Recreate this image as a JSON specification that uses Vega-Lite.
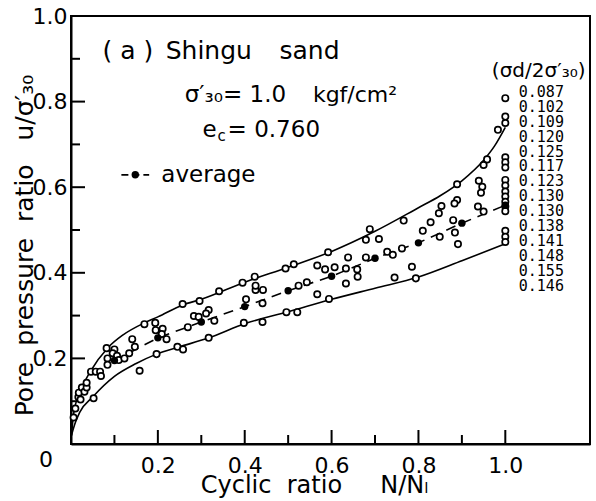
{
  "$schema": "https://vega.github.io/schema/vega-lite/v6.json",
  "width": 519,
  "height": 428,
  "autosize": "none",
  "padding": {"left": 71, "top": 16, "right": 6, "bottom": 57},
  "background": "white",
  "config": {
    "view": {"stroke": "black", "strokeWidth": 2},
    "font": "DejaVu Sans",
    "axis": {
      "domainColor": "black", "domainWidth": 2, "grid": false, "ticks": false, "tickSize": 0,
      "labelFont": "DejaVu Sans", "labelFontSize": 22, "labelColor": "black",
      "titleFont": "DejaVu Sans", "titleFontWeight": "normal", "titleColor": "black"
    }
  },
  "datasets": {
    "pts": [
      {"x": 0.006, "y": 0.062}, {"x": 0.010, "y": 0.083}, {"x": 0.017, "y": 0.110}, {"x": 0.018, "y": 0.120},
      {"x": 0.022, "y": 0.104}, {"x": 0.025, "y": 0.132}, {"x": 0.031, "y": 0.122}, {"x": 0.036, "y": 0.132},
      {"x": 0.036, "y": 0.143}, {"x": 0.046, "y": 0.169}, {"x": 0.057, "y": 0.169}, {"x": 0.067, "y": 0.169},
      {"x": 0.069, "y": 0.159}, {"x": 0.052, "y": 0.107},
      {"x": 0.082, "y": 0.224}, {"x": 0.100, "y": 0.221}, {"x": 0.096, "y": 0.212}, {"x": 0.084, "y": 0.200},
      {"x": 0.084, "y": 0.185}, {"x": 0.106, "y": 0.206}, {"x": 0.110, "y": 0.196}, {"x": 0.123, "y": 0.200},
      {"x": 0.134, "y": 0.212}, {"x": 0.141, "y": 0.245}, {"x": 0.147, "y": 0.227}, {"x": 0.158, "y": 0.171},
      {"x": 0.169, "y": 0.280}, {"x": 0.194, "y": 0.283}, {"x": 0.257, "y": 0.327}, {"x": 0.296, "y": 0.334},
      {"x": 0.341, "y": 0.357},
      {"x": 0.195, "y": 0.266}, {"x": 0.211, "y": 0.269}, {"x": 0.209, "y": 0.257}, {"x": 0.220, "y": 0.245},
      {"x": 0.269, "y": 0.273}, {"x": 0.283, "y": 0.299}, {"x": 0.294, "y": 0.297}, {"x": 0.317, "y": 0.313},
      {"x": 0.311, "y": 0.305}, {"x": 0.330, "y": 0.288},
      {"x": 0.197, "y": 0.210}, {"x": 0.245, "y": 0.227}, {"x": 0.258, "y": 0.221}, {"x": 0.317, "y": 0.248},
      {"x": 0.395, "y": 0.377}, {"x": 0.423, "y": 0.391}, {"x": 0.494, "y": 0.410}, {"x": 0.513, "y": 0.420},
      {"x": 0.403, "y": 0.338}, {"x": 0.425, "y": 0.360}, {"x": 0.442, "y": 0.360}, {"x": 0.425, "y": 0.370},
      {"x": 0.441, "y": 0.329}, {"x": 0.524, "y": 0.370}, {"x": 0.543, "y": 0.378},
      {"x": 0.398, "y": 0.283}, {"x": 0.441, "y": 0.285}, {"x": 0.496, "y": 0.308}, {"x": 0.521, "y": 0.308},
      {"x": 0.592, "y": 0.448}, {"x": 0.688, "y": 0.502}, {"x": 0.766, "y": 0.522},
      {"x": 0.567, "y": 0.417}, {"x": 0.585, "y": 0.408}, {"x": 0.607, "y": 0.413}, {"x": 0.638, "y": 0.436},
      {"x": 0.633, "y": 0.410}, {"x": 0.659, "y": 0.408}, {"x": 0.660, "y": 0.391}, {"x": 0.633, "y": 0.375},
      {"x": 0.679, "y": 0.436}, {"x": 0.679, "y": 0.477}, {"x": 0.709, "y": 0.479}, {"x": 0.728, "y": 0.449},
      {"x": 0.741, "y": 0.442}, {"x": 0.762, "y": 0.457},
      {"x": 0.567, "y": 0.350}, {"x": 0.594, "y": 0.339}, {"x": 0.745, "y": 0.389}, {"x": 0.794, "y": 0.387},
      {"x": 0.785, "y": 0.414},
      {"x": 0.810, "y": 0.498}, {"x": 0.828, "y": 0.518}, {"x": 0.847, "y": 0.539}, {"x": 0.853, "y": 0.556},
      {"x": 0.849, "y": 0.484}, {"x": 0.880, "y": 0.523}, {"x": 0.884, "y": 0.494}, {"x": 0.889, "y": 0.570},
      {"x": 0.883, "y": 0.562}, {"x": 0.889, "y": 0.607}, {"x": 0.891, "y": 0.467}, {"x": 0.937, "y": 0.555},
      {"x": 0.950, "y": 0.543}, {"x": 0.939, "y": 0.615}, {"x": 0.947, "y": 0.601}, {"x": 0.944, "y": 0.587},
      {"x": 0.958, "y": 0.665}, {"x": 0.950, "y": 0.652}, {"x": 0.983, "y": 0.734},
      {"x": 1.0, "y": 0.808}, {"x": 1.0, "y": 0.765}, {"x": 1.0, "y": 0.750}, {"x": 1.0, "y": 0.670},
      {"x": 1.0, "y": 0.658}, {"x": 1.0, "y": 0.646}, {"x": 1.0, "y": 0.617}, {"x": 1.0, "y": 0.604},
      {"x": 1.0, "y": 0.590}, {"x": 1.0, "y": 0.578}, {"x": 1.0, "y": 0.566}, {"x": 1.0, "y": 0.555},
      {"x": 1.0, "y": 0.544}, {"x": 1.0, "y": 0.498}, {"x": 1.0, "y": 0.484}, {"x": 1.0, "y": 0.472}
    ],
    "upper": [
      {"x": 0.001, "y": 0.02}, {"x": 0.006, "y": 0.07}, {"x": 0.02, "y": 0.12}, {"x": 0.045, "y": 0.17},
      {"x": 0.085, "y": 0.225}, {"x": 0.12, "y": 0.255}, {"x": 0.169, "y": 0.283}, {"x": 0.2, "y": 0.297},
      {"x": 0.257, "y": 0.325}, {"x": 0.3, "y": 0.338}, {"x": 0.4, "y": 0.378}, {"x": 0.5, "y": 0.413},
      {"x": 0.6, "y": 0.45}, {"x": 0.7, "y": 0.497}, {"x": 0.8, "y": 0.552}, {"x": 0.85, "y": 0.58},
      {"x": 0.9, "y": 0.615}, {"x": 0.95, "y": 0.663}, {"x": 0.975, "y": 0.696}, {"x": 1.0, "y": 0.74}
    ],
    "lower": [
      {"x": 0.001, "y": 0.02}, {"x": 0.01, "y": 0.05}, {"x": 0.02, "y": 0.074}, {"x": 0.05, "y": 0.11},
      {"x": 0.1, "y": 0.158}, {"x": 0.15, "y": 0.188}, {"x": 0.197, "y": 0.21}, {"x": 0.25, "y": 0.227},
      {"x": 0.317, "y": 0.248}, {"x": 0.4, "y": 0.281}, {"x": 0.5, "y": 0.309}, {"x": 0.6, "y": 0.338},
      {"x": 0.7, "y": 0.364}, {"x": 0.8, "y": 0.39}, {"x": 0.9, "y": 0.428}, {"x": 1.0, "y": 0.468}
    ],
    "avg": [
      {"x": 0.1, "y": 0.195}, {"x": 0.2, "y": 0.248}, {"x": 0.3, "y": 0.285}, {"x": 0.4, "y": 0.321},
      {"x": 0.5, "y": 0.358}, {"x": 0.6, "y": 0.392}, {"x": 0.7, "y": 0.434}, {"x": 0.8, "y": 0.470},
      {"x": 0.9, "y": 0.516}, {"x": 1.0, "y": 0.558}
    ],
    "legend": [{"x": 0.116, "y": 0.629}, {"x": 0.180, "y": 0.629}],
    "legenddot": [{"x": 0.148, "y": 0.629}],
    "majorticks": [{"v": 0.2}, {"v": 0.4}, {"v": 0.6}, {"v": 0.8}, {"v": 1.0}],
    "minorticks": [{"v": 0.1}, {"v": 0.3}, {"v": 0.5}, {"v": 0.7}, {"v": 0.9}]
  },
  "layer": [
    {"data": {"name": "upper"}, "mark": {"type": "line", "color": "black", "strokeWidth": 1.6, "interpolate": "monotone"},
     "encoding": {
       "x": {"field": "x", "type": "quantitative", "scale": {"domain": [0, 1.195], "nice": false, "zero": false},
         "axis": {"orient": "bottom", "title": "Cyclic\u00a0\u00a0ratio\u00a0\u00a0\u00a0\u00a0\u00a0N/Nₗ", "titleFontSize": 24, "titleX": 243, "titlePadding": -3,
           "values": [0.2, 0.4, 0.6, 0.8, 1.0], "format": ".1f", "labelPadding": 11}},
       "y": {"field": "y", "type": "quantitative", "scale": {"domain": [0, 1], "nice": false, "zero": false},
         "axis": {"orient": "left", "title": "Pore\u00a0\u00a0pressure\u00a0\u00a0ratio\u00a0\u00a0\u00a0u/σ′₃₀", "titleFontSize": 25, "titleY": 229, "titlePadding": -5,
           "values": [0.2, 0.4, 0.6, 0.8, 1.0], "format": ".1f", "labelPadding": 4}}
     }},
    {"data": {"name": "lower"}, "mark": {"type": "line", "color": "black", "strokeWidth": 1.6, "interpolate": "monotone"},
     "encoding": {
       "x": {"field": "x", "type": "quantitative", "scale": {"domain": [0, 1.195], "nice": false, "zero": false}},
       "y": {"field": "y", "type": "quantitative", "scale": {"domain": [0, 1], "nice": false, "zero": false}}
     }},
    {"data": {"name": "majorticks"}, "mark": {"type": "tick", "orient": "vertical", "color": "black", "size": 14, "thickness": 2, "yOffset": -7, "opacity": 1},
     "encoding": {
       "x": {"field": "v", "type": "quantitative", "scale": {"domain": [0, 1.195], "nice": false, "zero": false}},
       "y": {"datum": 0, "type": "quantitative", "scale": {"domain": [0, 1], "nice": false, "zero": false}}
     }},
    {"data": {"name": "minorticks"}, "mark": {"type": "tick", "orient": "vertical", "color": "black", "size": 9, "thickness": 2, "yOffset": -4.5, "opacity": 1},
     "encoding": {
       "x": {"field": "v", "type": "quantitative", "scale": {"domain": [0, 1.195], "nice": false, "zero": false}},
       "y": {"datum": 0, "type": "quantitative", "scale": {"domain": [0, 1], "nice": false, "zero": false}}
     }},
    {"data": {"name": "majorticks"}, "mark": {"type": "tick", "orient": "horizontal", "color": "black", "size": 14, "thickness": 2, "xOffset": 7, "opacity": 1},
     "encoding": {
       "y": {"field": "v", "type": "quantitative", "scale": {"domain": [0, 1], "nice": false, "zero": false}},
       "x": {"datum": 0, "type": "quantitative", "scale": {"domain": [0, 1.195], "nice": false, "zero": false}}
     }},
    {"data": {"name": "minorticks"}, "mark": {"type": "tick", "orient": "horizontal", "color": "black", "size": 9, "thickness": 2, "xOffset": 4.5, "opacity": 1},
     "encoding": {
       "y": {"field": "v", "type": "quantitative", "scale": {"domain": [0, 1], "nice": false, "zero": false}},
       "x": {"datum": 0, "type": "quantitative", "scale": {"domain": [0, 1.195], "nice": false, "zero": false}}
     }},
    {"data": {"name": "avg"}, "mark": {"type": "line", "color": "black", "strokeWidth": 1.6, "strokeDash": [10, 7]},
     "encoding": {
       "x": {"field": "x", "type": "quantitative", "scale": {"domain": [0, 1.195], "nice": false, "zero": false}},
       "y": {"field": "y", "type": "quantitative", "scale": {"domain": [0, 1], "nice": false, "zero": false}}
     }},
    {"data": {"name": "pts"}, "mark": {"type": "point", "shape": "circle", "size": 40, "filled": false, "fill": "white", "fillOpacity": 1, "stroke": "black", "strokeWidth": 1.7, "opacity": 1},
     "encoding": {
       "x": {"field": "x", "type": "quantitative", "scale": {"domain": [0, 1.195], "nice": false, "zero": false}},
       "y": {"field": "y", "type": "quantitative", "scale": {"domain": [0, 1], "nice": false, "zero": false}}
     }},
    {"data": {"name": "avg"}, "mark": {"type": "point", "shape": "circle", "size": 55, "filled": true, "color": "black", "opacity": 1},
     "encoding": {
       "x": {"field": "x", "type": "quantitative", "scale": {"domain": [0, 1.195], "nice": false, "zero": false}},
       "y": {"field": "y", "type": "quantitative", "scale": {"domain": [0, 1], "nice": false, "zero": false}}
     }},
    {"data": {"name": "legend"}, "mark": {"type": "line", "color": "black", "strokeWidth": 1.8, "strokeDash": [7, 4]},
     "encoding": {
       "x": {"field": "x", "type": "quantitative", "scale": {"domain": [0, 1.195], "nice": false, "zero": false}},
       "y": {"field": "y", "type": "quantitative", "scale": {"domain": [0, 1], "nice": false, "zero": false}}
     }},
    {"data": {"name": "legenddot"}, "mark": {"type": "point", "shape": "circle", "size": 55, "filled": true, "color": "black", "opacity": 1},
     "encoding": {
       "x": {"field": "x", "type": "quantitative", "scale": {"domain": [0, 1.195], "nice": false, "zero": false}},
       "y": {"field": "y", "type": "quantitative", "scale": {"domain": [0, 1], "nice": false, "zero": false}}
     }},
    {"data": {"values": [{}]}, "mark": {"type": "text", "align": "left", "baseline": "alphabetic", "fontSize": 25, "font": "DejaVu Sans"},
     "encoding": {"x": {"datum": 0.0726, "type": "quantitative"}, "y": {"datum": 0.9, "type": "quantitative"}, "text": {"value": "( a )"}}},
    {"data": {"values": [{}]}, "mark": {"type": "text", "align": "left", "baseline": "alphabetic", "fontSize": 25, "font": "DejaVu Sans"},
     "encoding": {"x": {"datum": 0.218, "type": "quantitative"}, "y": {"datum": 0.9, "type": "quantitative"}, "text": {"value": "Shingu"}}},
    {"data": {"values": [{}]}, "mark": {"type": "text", "align": "left", "baseline": "alphabetic", "fontSize": 25, "font": "DejaVu Sans"},
     "encoding": {"x": {"datum": 0.48, "type": "quantitative"}, "y": {"datum": 0.9, "type": "quantitative"}, "text": {"value": "sand"}}},
    {"data": {"values": [{}]}, "mark": {"type": "text", "align": "left", "baseline": "alphabetic", "fontSize": 23, "font": "DejaVu Sans"},
     "encoding": {"x": {"datum": 0.262, "type": "quantitative"}, "y": {"datum": 0.80, "type": "quantitative"}, "text": {"value": "σ′₃₀= 1.0"}}},
    {"data": {"values": [{}]}, "mark": {"type": "text", "align": "left", "baseline": "alphabetic", "fontSize": 22, "font": "DejaVu Sans"},
     "encoding": {"x": {"datum": 0.557, "type": "quantitative"}, "y": {"datum": 0.80, "type": "quantitative"}, "text": {"value": "kgf/cm²"}}},
    {"data": {"values": [{}]}, "mark": {"type": "text", "align": "left", "baseline": "alphabetic", "fontSize": 23, "font": "DejaVu Sans"},
     "encoding": {"x": {"datum": 0.303, "type": "quantitative"}, "y": {"datum": 0.717, "type": "quantitative"}, "text": {"value": "e"}}},
    {"data": {"values": [{}]}, "mark": {"type": "text", "align": "left", "baseline": "alphabetic", "fontSize": 15, "font": "DejaVu Sans", "dx": 15, "dy": 4},
     "encoding": {"x": {"datum": 0.303, "type": "quantitative"}, "y": {"datum": 0.717, "type": "quantitative"}, "text": {"value": "c"}}},
    {"data": {"values": [{}]}, "mark": {"type": "text", "align": "left", "baseline": "alphabetic", "fontSize": 23, "font": "DejaVu Sans", "dx": 25},
     "encoding": {"x": {"datum": 0.303, "type": "quantitative"}, "y": {"datum": 0.717, "type": "quantitative"}, "text": {"value": "= 0.760"}}},
    {"data": {"values": [{}]}, "mark": {"type": "text", "align": "left", "baseline": "alphabetic", "fontSize": 23, "font": "DejaVu Sans"},
     "encoding": {"x": {"datum": 0.208, "type": "quantitative"}, "y": {"datum": 0.612, "type": "quantitative"}, "text": {"value": "average"}}},
    {"data": {"values": [{}]}, "mark": {"type": "text", "align": "left", "baseline": "alphabetic", "fontSize": 20, "font": "DejaVu Sans"},
     "encoding": {"x": {"datum": 0.969, "type": "quantitative"}, "y": {"datum": 0.857, "type": "quantitative"}, "text": {"value": "(σd/2σ′₃₀)"}}},
    {"data": {"values": [{}]}, "mark": {"type": "text", "align": "left", "baseline": "top", "fontSize": 15, "font": "DejaVu Sans Mono", "lineHeight": 14.9},
     "encoding": {"x": {"datum": 1.031, "type": "quantitative"}, "y": {"datum": 0.839, "type": "quantitative"}, "text": {"value": ["0.087", "0.102", "0.109", "0.120", "0.125", "0.117", "0.123", "0.130", "0.130", "0.138", "0.141", "0.148", "0.155", "0.146"]}}},
    {"data": {"values": [{}]}, "mark": {"type": "text", "align": "center", "baseline": "middle", "fontSize": 22, "font": "DejaVu Sans", "dx": -25, "dy": 16},
     "encoding": {"x": {"datum": 0, "type": "quantitative"}, "y": {"datum": 0, "type": "quantitative"}, "text": {"value": "0"}}}
  ]
}
